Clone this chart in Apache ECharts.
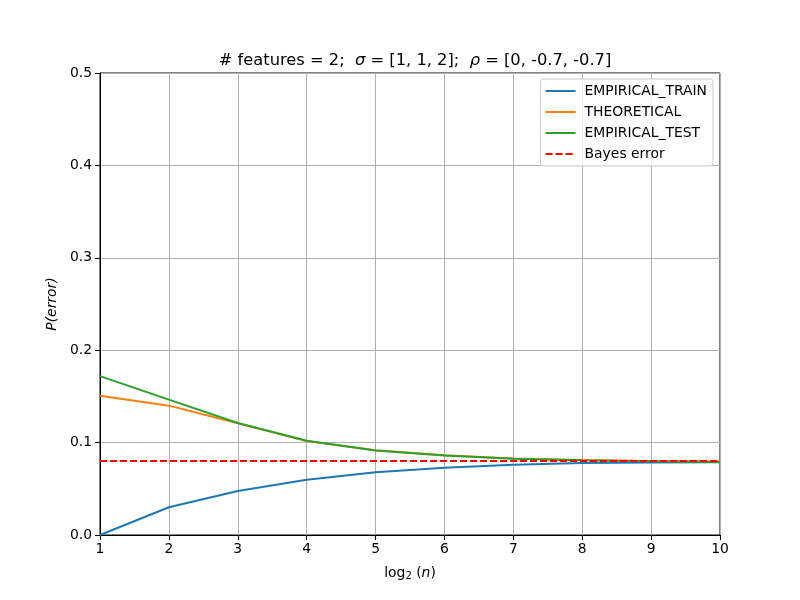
<!DOCTYPE html>
<html>
<head>
<meta charset="utf-8">
<script src="https://cdn.jsdelivr.net/npm/echarts@6/dist/echarts.min.js"></script>
<style>
  html, body { margin: 0; padding: 0; background: #fff; }
  #main { width: 800px; height: 600px; }
</style>
</head>
<body>
<div id="main"></div>
<script>
// log2(n)
var logN = [1, 2, 3, 4, 5, 6, 7, 8, 9, 10];
var empiricalTrain = [0.0, 0.030, 0.0476, 0.0598, 0.0678, 0.0728, 0.0760, 0.0778, 0.0784, 0.0788];
var theoretical = [0.1508, 0.1400, 0.1209, 0.1017, 0.0917, 0.0863, 0.0829, 0.0812, 0.0801, 0.0795];
var empiricalTest = [0.1720, 0.1465, 0.1212, 0.1020, 0.0915, 0.0860, 0.0825, 0.0808, 0.0797, 0.0790];
var bayesError = 0.08;
var yTicks = [0, 0.1, 0.2, 0.3, 0.4, 0.5];

function pairs(ys) {
    return logN.map(function (x, i) { return [x, ys[i]]; });
}

var font = 'DejaVu Sans';
var myChart = echarts.init(document.getElementById('main'));
var option = {
    backgroundColor: '#fff',
    animation: false,
    textStyle: { fontFamily: font },
    title: {
        left: 410,
        top: 48,
        textAlign: 'center',
        text: '# features = 2;  {i|σ} = [1, 1, 2];  {i|ρ} = [0, -0.7, -0.7]',
        textStyle: {
            fontFamily: font, fontSize: 16.3, fontWeight: 'normal', color: '#000',
            rich: { i: { fontFamily: font, fontSize: 16.3, fontStyle: 'italic', color: '#000' } }
        }
    },
    legend: {
        orient: 'vertical',
        right: 87,
        top: 79,
        padding: [5, 6, 5, 4],
        itemGap: 7,
        itemWidth: 30,
        itemHeight: 14,
        backgroundColor: 'rgba(255,255,255,0.8)',
        borderColor: '#cccccc',
        borderWidth: 1,
        borderRadius: 3,
        itemStyle: { opacity: 0 },
        textStyle: { fontFamily: font, fontSize: 13.9, color: '#000', padding: [0, 0, 0, 4] },
        data: ['EMPIRICAL_TRAIN', 'THEORETICAL', 'EMPIRICAL_TEST', 'Bayes error']
    },
    grid: {
        left: 100, right: 80, top: 73, bottom: 65,
        show: true, borderColor: '#000', borderWidth: 1
    },
    xAxis: {
        type: 'value',
        min: 1, max: 10, interval: 1,
        name: 'log{s|2} ({i|n})',
        nameLocation: 'middle',
        nameGap: 30,
        nameTextStyle: {
            fontFamily: font, fontSize: 13.9, color: '#000',
            rich: {
                s: { fontFamily: font, fontSize: 10, color: '#000', verticalAlign: 'bottom', padding: [6, 0, 0, 0] },
                i: { fontFamily: font, fontSize: 13.9, fontStyle: 'italic', color: '#000' }
            }
        },
        axisLine: { show: true, onZero: false, lineStyle: { color: '#000' } },
        axisTick: { show: true, length: 5, lineStyle: { color: '#000' } },
        axisLabel: { fontFamily: font, fontSize: 13.9, color: '#000', margin: 7 },
        splitLine: { show: true, lineStyle: { color: '#b0b0b0', width: 1 } }
    },
    yAxis: {
        type: 'value',
        min: yTicks[0], max: yTicks[yTicks.length - 1], interval: 0.1,
        name: 'P(error)',
        nameLocation: 'middle',
        nameRotate: 90,
        nameGap: 37,
        nameTextStyle: { fontFamily: font, fontSize: 13.9, fontStyle: 'italic', color: '#000' },
        axisLine: { show: true, onZero: false, lineStyle: { color: '#000' } },
        axisTick: { show: true, length: 5, lineStyle: { color: '#000' } },
        axisLabel: {
            fontFamily: font, fontSize: 13.9, color: '#000', margin: 8,
            formatter: function (v) { return v.toFixed(1); }
        },
        splitLine: { show: true, lineStyle: { color: '#b0b0b0', width: 1 } }
    },
    series: [
        {
            name: 'EMPIRICAL_TRAIN', type: 'line', symbol: 'none', data: pairs(empiricalTrain),
            itemStyle: { color: '#1f77b4' }, lineStyle: { color: '#1f77b4', width: 2 }
        },
        {
            name: 'THEORETICAL', type: 'line', symbol: 'none', data: pairs(theoretical),
            itemStyle: { color: '#ff7f0e' }, lineStyle: { color: '#ff7f0e', width: 2 }
        },
        {
            name: 'EMPIRICAL_TEST', type: 'line', symbol: 'none', data: pairs(empiricalTest),
            itemStyle: { color: '#2ca02c' }, lineStyle: { color: '#2ca02c', width: 2 }
        },
        {
            name: 'Bayes error', type: 'line', symbol: 'none',
            data: [[logN[0], bayesError], [logN[logN.length - 1], bayesError]],
            itemStyle: { color: '#ff0000' },
            lineStyle: { color: '#ff0000', width: 2, type: [7, 3] }
        }
    ]
};
myChart.setOption(option);
</script>
</body>
</html>
